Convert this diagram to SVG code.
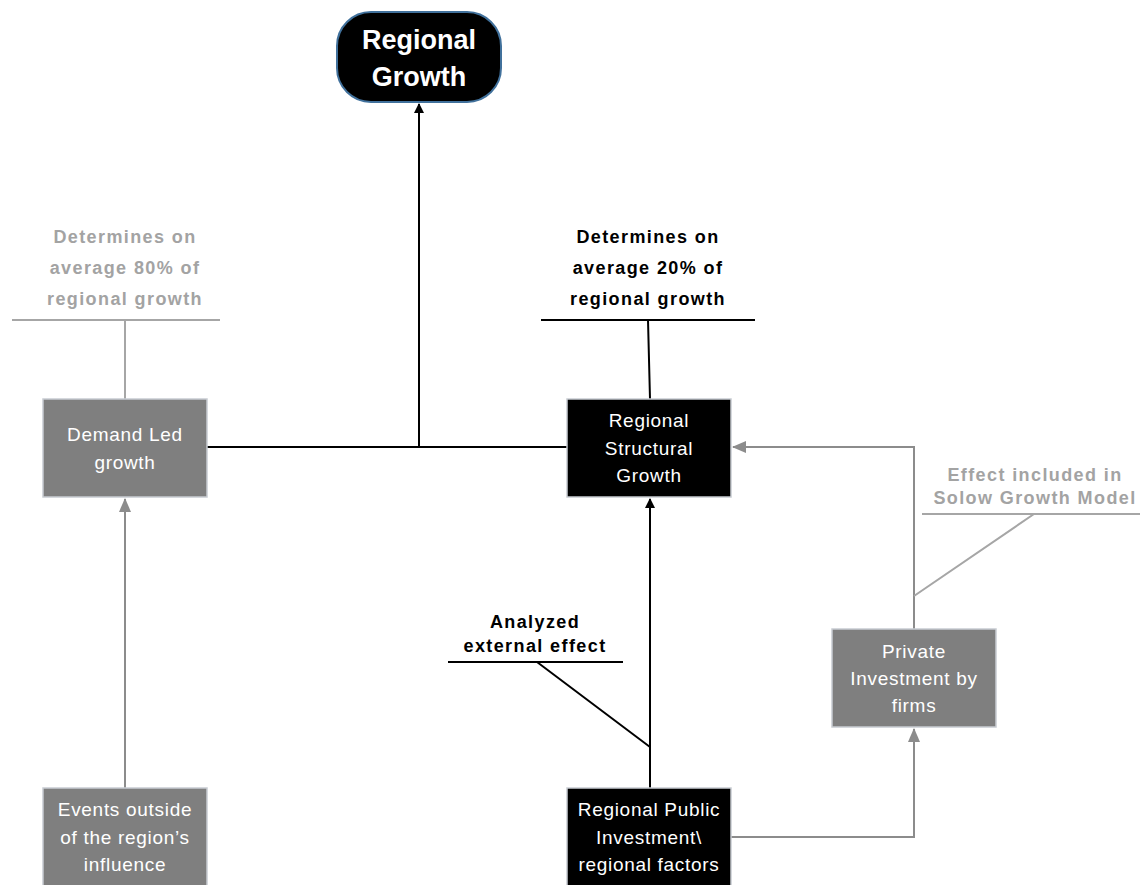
<svg xmlns="http://www.w3.org/2000/svg" width="1140" height="885" viewBox="0 0 1140 885">
<defs>
<style>
.box{stroke:#C8CCD2;stroke-width:1.5}
.gray{fill:#7F7F7F}
.black{fill:#000}
.bt{font-family:"Liberation Sans",Arial,sans-serif;font-size:19px;fill:#fff;text-anchor:middle;letter-spacing:0.7px}
.lbl{font-family:"Liberation Sans",Arial,sans-serif;font-size:18px;font-weight:bold;text-anchor:middle;letter-spacing:1.4px}
.lk{fill:#000}
.lg{fill:#A3A3A3}
.ck{stroke:#000;stroke-width:2;fill:none}
.cg{stroke:#8C8C8C;stroke-width:2;fill:none}
.cl{stroke:#A6A6A6;stroke-width:2;fill:none}
</style>
<marker id="ak" markerWidth="10" markerHeight="10" refX="9" refY="5" orient="auto" markerUnits="userSpaceOnUse" viewBox="0 0 10 10"><path d="M0,0 L10,5 L0,10 z" fill="#000"/></marker>
<marker id="ag" markerWidth="14" markerHeight="14" refX="13" refY="7" orient="auto" markerUnits="userSpaceOnUse" viewBox="0 0 14 14"><path d="M0,1 L14,7 L0,13 z" fill="#8C8C8C"/></marker>
</defs>
<rect width="1140" height="885" fill="#fff"/>
<g id="connectors">
<path class="ck" d="M207,447 H567"/>
<path class="ck" d="M419,447 V104" marker-end="url(#ak)"/>
<path class="ck" d="M650,788 V499" marker-end="url(#ak)"/>
<path class="cg" d="M125,788 V499" marker-end="url(#ag)"/>
<path class="cg" d="M731,837 H914 V729" marker-end="url(#ag)"/>
<path class="cg" d="M914,629 V447 H733" marker-end="url(#ag)"/>
</g>
<g id="callouts">
<path class="cl" d="M12,320 H220 M125,320 V399"/>
<path class="ck" d="M541,320 H755 M648,320 L650,399"/>
<path class="ck" d="M448,662 H623 M537,662 L650,747"/>
<path class="cl" d="M922,514 H1140 M1034,514 L914,596"/>
<text class="lbl lg" x="125" y="243">Determines on</text>
<text class="lbl lg" x="125" y="274">average 80% of</text>
<text class="lbl lg" x="125" y="305">regional growth</text>
<text class="lbl lk" x="648" y="243">Determines on</text>
<text class="lbl lk" x="648" y="274">average 20% of</text>
<text class="lbl lk" x="648" y="305">regional growth</text>
<text class="lbl lk" x="535" y="628">Analyzed</text>
<text class="lbl lk" x="535" y="652">external effect</text>
<text class="lbl lg" x="1035" y="481">Effect included in</text>
<text class="lbl lg" x="1035" y="504">Solow Growth Model</text>
</g>
<g id="regional-growth">
<rect x="337" y="12" width="164" height="90" rx="34" fill="#000" stroke="#41719C" stroke-width="2"/>
<text x="419" y="49" font-family="Liberation Sans,Arial,sans-serif" font-size="27" font-weight="bold" fill="#fff" text-anchor="middle">Regional</text>
<text x="419" y="86" font-family="Liberation Sans,Arial,sans-serif" font-size="27" font-weight="bold" fill="#fff" text-anchor="middle">Growth</text>
</g>
<g id="demand-led">
<rect class="box gray" x="43" y="399" width="164" height="98"/>
<text class="bt" x="125" y="441">Demand Led</text>
<text class="bt" x="125" y="469">growth</text>
</g>
<g id="structural">
<rect class="box black" x="567" y="399" width="164" height="98"/>
<text class="bt" x="649" y="427">Regional</text>
<text class="bt" x="649" y="455">Structural</text>
<text class="bt" x="649" y="482">Growth</text>
</g>
<g id="private">
<rect class="box gray" x="832" y="629" width="164" height="98"/>
<text class="bt" x="914" y="658">Private</text>
<text class="bt" x="914" y="685">Investment by</text>
<text class="bt" x="914" y="712">firms</text>
</g>
<g id="events">
<rect class="box gray" x="43" y="788" width="164" height="100"/>
<text class="bt" x="125" y="816">Events outside</text>
<text class="bt" x="125" y="844">of the region’s</text>
<text class="bt" x="125" y="871">influence</text>
</g>
<g id="public">
<rect class="box black" x="567" y="788" width="164" height="100"/>
<text class="bt" x="649" y="816">Regional Public</text>
<text class="bt" x="649" y="844">Investment\</text>
<text class="bt" x="649" y="871">regional factors</text>
</g>
</svg>
